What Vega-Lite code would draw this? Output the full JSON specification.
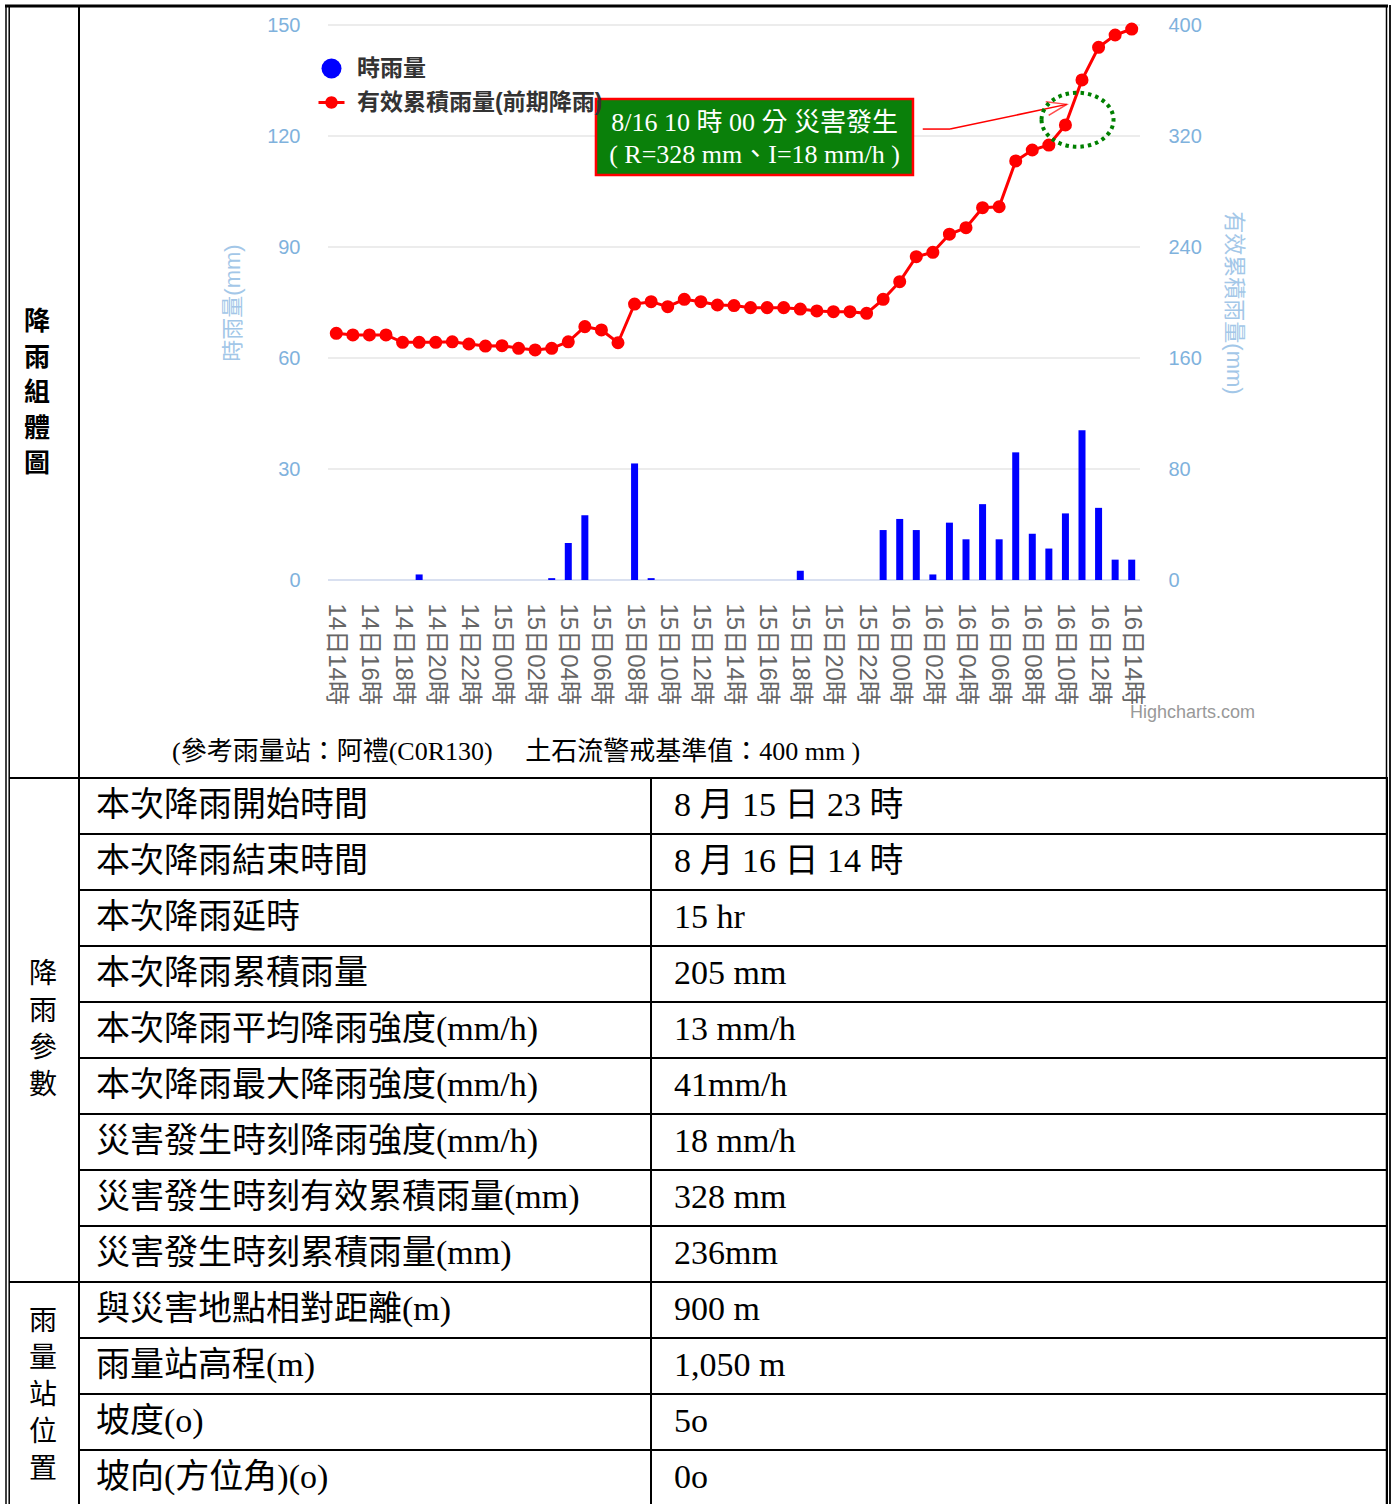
{
  "$schema": "https://vega.github.io/schema/vega-lite/v6.json",
  "width": 1395,
  "height": 1504,
  "autosize": {"type": "none"},
  "padding": 0,
  "background": "#ffffff",
  "config": {"view": {"stroke": null}},
  "datasets": {
    "rain": [
      {"i": 0, "time": "14日14時", "rain": 0, "cum": 177.8},
      {"i": 1, "time": "14日15時", "rain": 0, "cum": 176.6},
      {"i": 2, "time": "14日16時", "rain": 0, "cum": 176.6},
      {"i": 3, "time": "14日17時", "rain": 0, "cum": 176.6},
      {"i": 4, "time": "14日18時", "rain": 0, "cum": 171.3},
      {"i": 5, "time": "14日19時", "rain": 1.5, "cum": 171.3},
      {"i": 6, "time": "14日20時", "rain": 0, "cum": 171.3},
      {"i": 7, "time": "14日21時", "rain": 0, "cum": 171.7},
      {"i": 8, "time": "14日22時", "rain": 0, "cum": 170.1},
      {"i": 9, "time": "14日23時", "rain": 0, "cum": 168.6},
      {"i": 10, "time": "15日00時", "rain": 0, "cum": 168.9},
      {"i": 11, "time": "15日01時", "rain": 0, "cum": 167.0},
      {"i": 12, "time": "15日02時", "rain": 0, "cum": 165.8},
      {"i": 13, "time": "15日03時", "rain": 0.5, "cum": 167.0},
      {"i": 14, "time": "15日04時", "rain": 10, "cum": 171.7},
      {"i": 15, "time": "15日05時", "rain": 17.5, "cum": 182.6},
      {"i": 16, "time": "15日06時", "rain": 0, "cum": 180.2},
      {"i": 17, "time": "15日07時", "rain": 0, "cum": 171.0},
      {"i": 18, "time": "15日08時", "rain": 31.5, "cum": 198.9},
      {"i": 19, "time": "15日09時", "rain": 0.5, "cum": 200.6},
      {"i": 20, "time": "15日10時", "rain": 0, "cum": 197.0},
      {"i": 21, "time": "15日11時", "rain": 0, "cum": 202.3},
      {"i": 22, "time": "15日12時", "rain": 0, "cum": 200.6},
      {"i": 23, "time": "15日13時", "rain": 0, "cum": 198.2},
      {"i": 24, "time": "15日14時", "rain": 0, "cum": 197.8},
      {"i": 25, "time": "15日15時", "rain": 0, "cum": 196.3},
      {"i": 26, "time": "15日16時", "rain": 0, "cum": 196.3},
      {"i": 27, "time": "15日17時", "rain": 0, "cum": 196.3},
      {"i": 28, "time": "15日18時", "rain": 2.5, "cum": 195.3},
      {"i": 29, "time": "15日19時", "rain": 0, "cum": 193.9},
      {"i": 30, "time": "15日20時", "rain": 0, "cum": 193.4},
      {"i": 31, "time": "15日21時", "rain": 0, "cum": 193.4},
      {"i": 32, "time": "15日22時", "rain": 0, "cum": 192.2},
      {"i": 33, "time": "15日23時", "rain": 13.5, "cum": 202.3},
      {"i": 34, "time": "16日00時", "rain": 16.5, "cum": 215.0},
      {"i": 35, "time": "16日01時", "rain": 13.5, "cum": 233.0},
      {"i": 36, "time": "16日02時", "rain": 1.5, "cum": 236.2},
      {"i": 37, "time": "16日03時", "rain": 15.5, "cum": 249.2},
      {"i": 38, "time": "16日04時", "rain": 11, "cum": 253.9},
      {"i": 39, "time": "16日05時", "rain": 20.5, "cum": 268.3},
      {"i": 40, "time": "16日06時", "rain": 11, "cum": 269.0},
      {"i": 41, "time": "16日07時", "rain": 34.5, "cum": 302.0},
      {"i": 42, "time": "16日08時", "rain": 12.5, "cum": 309.9},
      {"i": 43, "time": "16日09時", "rain": 8.5, "cum": 313.5},
      {"i": 44, "time": "16日10時", "rain": 18, "cum": 328.0},
      {"i": 45, "time": "16日11時", "rain": 40.5, "cum": 360.4},
      {"i": 46, "time": "16日12時", "rain": 19.5, "cum": 383.9},
      {"i": 47, "time": "16日13時", "rain": 5.5, "cum": 392.8},
      {"i": 48, "time": "16日14時", "rain": 5.5, "cum": 397.1}
    ],
    "table": [
      {"row": 1, "group": "降雨參數", "item": "本次降雨開始時間", "value": "8 月 15 日 23 時"},
      {"row": 2, "group": "降雨參數", "item": "本次降雨結束時間", "value": "8 月 16 日 14 時"},
      {"row": 3, "group": "降雨參數", "item": "本次降雨延時", "value": "15 hr"},
      {"row": 4, "group": "降雨參數", "item": "本次降雨累積雨量", "value": "205 mm"},
      {"row": 5, "group": "降雨參數", "item": "本次降雨平均降雨強度(mm/h)", "value": "13 mm/h"},
      {"row": 6, "group": "降雨參數", "item": "本次降雨最大降雨強度(mm/h)", "value": "41mm/h"},
      {"row": 7, "group": "降雨參數", "item": "災害發生時刻降雨強度(mm/h)", "value": "18 mm/h"},
      {"row": 8, "group": "降雨參數", "item": "災害發生時刻有效累積雨量(mm)", "value": "328 mm"},
      {"row": 9, "group": "降雨參數", "item": "災害發生時刻累積雨量(mm)", "value": "236mm"},
      {"row": 10, "group": "雨量站位置", "item": "與災害地點相對距離(m)", "value": "900 m"},
      {"row": 11, "group": "雨量站位置", "item": "雨量站高程(m)", "value": "1,050 m"},
      {"row": 12, "group": "雨量站位置", "item": "坡度(o)", "value": "5o"},
      {"row": 13, "group": "雨量站位置", "item": "坡向(方位角)(o)", "value": "0o"}
    ]
  },
  "layer": [
    {
      "data": {"values": [{"tick": 0}, {"tick": 30}, {"tick": 60}, {"tick": 90}, {"tick": 120}, {"tick": 150}]},
      "mark": {"type": "rule", "strokeWidth": 1.5},
      "encoding": {
        "y": {"field": "tick", "type": "quantitative", "scale": {"domain": [0, 150], "range": [580, 25], "nice": false, "zero": false}, "axis": null},
        "x": {"datum": -0.5, "type": "quantitative", "scale": {"domain": [-0.5, 48.5], "range": [328, 1140], "nice": false, "zero": false}, "axis": null},
        "x2": {"datum": 48.5},
        "color": {"condition": {"test": "datum.tick === 0", "value": "#ccd6eb"}, "value": "#e6e6e6"}
      }
    },
    {
      "data": {"name": "rain"},
      "encoding": {
        "x": {
          "field": "time", "type": "ordinal", "sort": null,
          "scale": {"type": "band", "range": [328, 1140], "paddingInner": 0, "paddingOuter": 0},
          "axis": {
            "orient": "bottom", "offset": -924, "labelAngle": 90,
            "labelExpr": "parseInt(substring(datum.value, 3, 5)) % 2 === 0 ? datum.value : ''",
            "ticks": false, "domain": false, "grid": false, "title": null,
            "labelFont": "Liberation Sans, Noto Sans CJK TC", "labelFontSize": 24, "labelColor": "#666666",
            "labelPadding": 23, "labelOverlap": false, "labelBound": false
          }
        }
      },
      "layer": [
        {
          "mark": {"type": "bar", "width": 7},
          "encoding": {
            "y": {
              "field": "rain", "type": "quantitative",
              "scale": {"domain": [0, 150], "range": [580, 25], "nice": false, "zero": true},
              "axis": {
                "orient": "left", "offset": -328, "values": [0, 30, 60, 90, 120, 150],
                "grid": false, "domain": false, "ticks": false, "labelPadding": 28,
                "labelColor": "#7fb2dd", "labelFontSize": 20, "labelFont": "Liberation Sans",
                "title": "時雨量(mm)", "titleColor": "#a3c7e8", "titleFontSize": 22, "titleFontWeight": "normal",
                "titleFont": "Liberation Sans, Noto Sans CJK TC", "titlePadding": 22
              }
            },
            "color": {
              "datum": "時雨量", "type": "nominal",
              "scale": {"domain": ["時雨量", "有效累積雨量(前期降雨)"], "range": ["#0000ff", "#ff0000"]},
              "legend": {
                "orient": "none", "legendX": 320, "legendY": 57, "title": null,
                "symbolType": "circle", "symbolSize": 400, "symbolStrokeWidth": 0,
                "labelFontSize": 23, "labelFontWeight": "bold", "labelColor": "#333333",
                "labelFont": "Liberation Sans, Noto Sans CJK TC", "labelOffset": 14, "rowPadding": 10, "padding": 0,
                "labelLimit": 246,
                "encode": {
                  "labels": {
                    "enter": {"ellipsis": {"value": " "}},
                    "update": {"ellipsis": {"value": " "}}
                  },
                  "symbols": {
                    "update": {
                      "shape": {"signal": "datum.value === '時雨量' ? 'circle' : 'M-1.3,-0.16L1.3,-0.16L1.3,0.16L-1.3,0.16Z M0.62,0A0.62,0.62,0,1,1,-0.62,0A0.62,0.62,0,1,1,0.62,0'"},
                      "fill": {"scale": "color", "field": "value"},
                      "fillOpacity": {"value": 1},
                      "strokeWidth": {"value": 0}
                    }
                  }
                }
              }
            }
          }
        },
        {
          "mark": {"type": "line", "strokeWidth": 3, "point": {"size": 170, "filled": true}},
          "encoding": {
            "y": {
              "field": "cum", "type": "quantitative",
              "scale": {"domain": [0, 400], "range": [580, 25], "nice": false, "zero": true},
              "axis": {
                "orient": "right", "offset": -255, "values": [0, 80, 160, 240, 320, 400],
                "grid": false, "domain": false, "ticks": false, "labelPadding": 28,
                "labelColor": "#7fb2dd", "labelFontSize": 20, "labelFont": "Liberation Sans",
                "title": "有效累積雨量(mm)", "titleColor": "#a3c7e8", "titleFontSize": 22, "titleFontWeight": "normal",
                "titleFont": "Liberation Sans, Noto Sans CJK TC", "titlePadding": 20
              }
            },
            "color": {"datum": "有效累積雨量(前期降雨)", "type": "nominal"}
          }
        }
      ],
      "resolve": {"scale": {"y": "independent"}}
    },
    {
      "data": {"values": [{"line1": "8/16 10 時 00 分  災害發生", "line2": "( R=328 mm、I=18 mm/h )"}]},
      "layer": [
        {
          "mark": {"type": "rect", "fill": "#0a800a", "stroke": "#ff0000", "strokeWidth": 2.5},
          "encoding": {
            "x": {"datum": 15.67, "type": "quantitative", "scale": {"domain": [-0.5, 48.5], "range": [328, 1140], "nice": false, "zero": false}, "axis": null},
            "x2": {"datum": 34.8},
            "y": {"datum": 346.7, "type": "quantitative", "scale": {"domain": [0, 400], "range": [580, 25], "nice": false, "zero": false}, "axis": null},
            "y2": {"datum": 291.9}
          }
        },
        {
          "mark": {"type": "text", "color": "#ffffff", "fontSize": 26, "font": "Liberation Serif, Noto Sans CJK TC", "align": "center", "baseline": "middle"},
          "encoding": {
            "x": {"datum": 25.24, "type": "quantitative"},
            "y": {"datum": 329.4, "type": "quantitative"},
            "text": {"field": "line1"}
          }
        },
        {
          "mark": {"type": "text", "color": "#ffffff", "fontSize": 26, "font": "Liberation Serif, Noto Sans CJK TC", "align": "center", "baseline": "middle"},
          "encoding": {
            "x": {"datum": 25.24, "type": "quantitative"},
            "y": {"datum": 306.3, "type": "quantitative"},
            "text": {"field": "line2"}
          }
        },
        {
          "mark": {"type": "rule", "color": "#ff0000", "strokeWidth": 1.5},
          "encoding": {
            "x": {"datum": 35.39, "type": "quantitative"},
            "x2": {"datum": 37.04},
            "y": {"datum": 325, "type": "quantitative"},
            "y2": {"datum": 325}
          }
        },
        {
          "mark": {"type": "rule", "color": "#ff0000", "strokeWidth": 1.5},
          "encoding": {
            "x": {"datum": 37.04, "type": "quantitative"},
            "x2": {"datum": 44.08},
            "y": {"datum": 325, "type": "quantitative"},
            "y2": {"datum": 342.8}
          }
        },
        {
          "mark": {"type": "point", "shape": "M-1,-0.35L0,0L-1,0.35", "filled": false, "stroke": "#ff0000", "strokeWidth": 1.5, "size": 1600, "angle": 348},
          "encoding": {
            "x": {"datum": 44.08, "type": "quantitative"},
            "y": {"datum": 342.8, "type": "quantitative"}
          }
        },
        {
          "mark": {"type": "point", "shape": "M-1,0A1,0.75,0,1,0,1,0A1,0.75,0,1,0,-1,0", "filled": false, "stroke": "#008000", "strokeWidth": 4, "strokeDash": [3.5, 4], "size": 5184, "opacity": 1},
          "encoding": {
            "x": {"datum": 44.73, "type": "quantitative"},
            "y": {"datum": 331.7, "type": "quantitative"}
          }
        }
      ]
    },
    {
      "data": {"values": [{"caption": "(參考雨量站：阿禮(C0R130) 　土石流警戒基準值：400 mm )", "credit": "Highcharts.com"}]},
      "layer": [
        {"mark": {"type": "rule", "color": "#000000", "strokeWidth": 1.5},
         "encoding": {"x": {"datum": 6, "type": "quantitative", "scale": {"domain": [0, 1395], "range": [0, 1395], "nice": false, "zero": false}, "axis": null},
                      "y": {"datum": 5, "type": "quantitative", "scale": {"domain": [0, 1504], "range": [0, 1504], "nice": false, "zero": false}, "axis": null},
                      "y2": {"datum": 1504}}},
        {"mark": {"type": "rule", "color": "#000000", "strokeWidth": 1.5},
         "encoding": {"x": {"datum": 9.2, "type": "quantitative"}, "y": {"datum": 7, "type": "quantitative"}, "y2": {"datum": 1504}}},
        {"mark": {"type": "rule", "color": "#000000", "strokeWidth": 2},
         "encoding": {"x": {"datum": 79, "type": "quantitative"}, "y": {"datum": 6, "type": "quantitative"}, "y2": {"datum": 1504}}},
        {"mark": {"type": "rule", "color": "#000000", "strokeWidth": 2},
         "encoding": {"x": {"datum": 651, "type": "quantitative"}, "y": {"datum": 778, "type": "quantitative"}, "y2": {"datum": 1504}}},
        {"mark": {"type": "rule", "color": "#000000", "strokeWidth": 1.5},
         "encoding": {"x": {"datum": 1386.5, "type": "quantitative"}, "y": {"datum": 6, "type": "quantitative"}, "y2": {"datum": 1504}}},
        {"mark": {"type": "rule", "color": "#000000", "strokeWidth": 1.8},
         "encoding": {"x": {"datum": 1390, "type": "quantitative"}, "y": {"datum": 5, "type": "quantitative"}, "y2": {"datum": 1504}}},
        {"mark": {"type": "rule", "color": "#000000", "strokeWidth": 2.8},
         "encoding": {"x": {"datum": 5, "type": "quantitative"}, "x2": {"datum": 1388}, "y": {"datum": 6, "type": "quantitative"}}},
        {"mark": {"type": "rule", "color": "#000000", "strokeWidth": 2},
         "encoding": {"x": {"datum": 9, "type": "quantitative"}, "x2": {"datum": 1387}, "y": {"datum": 778, "type": "quantitative"}}},
        {"mark": {"type": "rule", "color": "#000000", "strokeWidth": 2},
         "encoding": {"x": {"datum": 9, "type": "quantitative"}, "x2": {"datum": 1387}, "y": {"datum": 1282, "type": "quantitative"}}},
        {"mark": {"type": "text", "fontSize": 26, "lineHeight": 35.5, "font": "Noto Sans CJK TC", "fontWeight": "bold", "color": "#000000", "align": "center", "baseline": "middle"},
         "encoding": {"x": {"datum": 37, "type": "quantitative"}, "y": {"datum": 322, "type": "quantitative"}, "text": {"value": ["降", "雨", "組", "體", "圖"]}}},
        {"mark": {"type": "text", "fontSize": 28, "lineHeight": 37, "font": "Noto Sans CJK TC", "color": "#000000", "align": "center", "baseline": "middle"},
         "encoding": {"x": {"datum": 43, "type": "quantitative"}, "y": {"datum": 975, "type": "quantitative"}, "text": {"value": ["降", "雨", "參", "數"]}}},
        {"mark": {"type": "text", "fontSize": 28, "lineHeight": 37, "font": "Noto Sans CJK TC", "color": "#000000", "align": "center", "baseline": "middle"},
         "encoding": {"x": {"datum": 43, "type": "quantitative"}, "y": {"datum": 1322, "type": "quantitative"}, "text": {"value": ["雨", "量", "站", "位", "置"]}}},
        {"mark": {"type": "text", "fontSize": 26, "font": "Liberation Serif, Noto Sans CJK TC", "color": "#000000", "align": "left", "baseline": "middle"},
         "encoding": {"x": {"datum": 172, "type": "quantitative"}, "y": {"datum": 752, "type": "quantitative"}, "text": {"field": "caption"}}},
        {"mark": {"type": "text", "fontSize": 18, "font": "Liberation Sans", "color": "#999999", "align": "left", "baseline": "middle"},
         "encoding": {"x": {"datum": 1130, "type": "quantitative"}, "y": {"datum": 713, "type": "quantitative"}, "text": {"field": "credit"}}}
      ]
    },
    {
      "data": {"name": "table"},
      "encoding": {
        "y": {"field": "row", "type": "ordinal", "scale": {"type": "band", "domain": [1, 2, 3, 4, 5, 6, 7, 8, 9, 10, 11, 12, 13], "range": [778, 1506], "paddingInner": 0, "paddingOuter": 0}, "axis": null}
      },
      "layer": [
        {
          "mark": {"type": "rect", "fill": null, "stroke": "#000000", "strokeWidth": 2},
          "encoding": {
            "x": {"datum": 79, "type": "quantitative", "scale": {"domain": [0, 1395], "range": [0, 1395], "nice": false, "zero": false}, "axis": null},
            "x2": {"datum": 1387}
          }
        },
        {
          "mark": {"type": "text", "fontSize": 34, "font": "Liberation Serif, Noto Sans CJK TC", "color": "#000000", "align": "left", "baseline": "middle"},
          "encoding": {
            "x": {"datum": 96, "type": "quantitative"},
            "text": {"field": "item"}
          }
        },
        {
          "mark": {"type": "text", "fontSize": 34, "font": "Liberation Serif, Noto Sans CJK TC", "color": "#000000", "align": "left", "baseline": "middle"},
          "encoding": {
            "x": {"datum": 674, "type": "quantitative"},
            "text": {"field": "value"}
          }
        }
      ]
    }
  ],
  "resolve": {"scale": {"x": "independent", "y": "independent"}}
}
